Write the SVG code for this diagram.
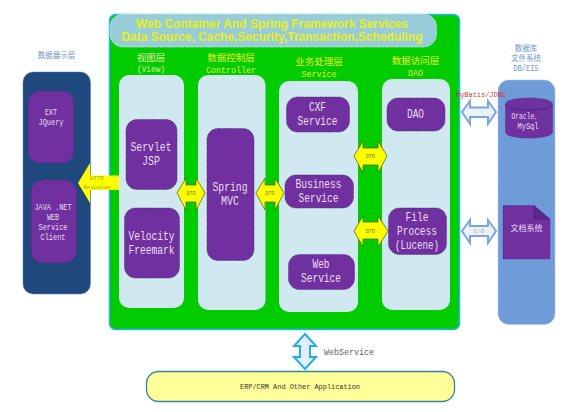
<svg xmlns="http://www.w3.org/2000/svg" width="585" height="412" viewBox="0 0 585 412">
<style>
text{font-family:"Liberation Mono","Noto Sans CJK SC",monospace;text-anchor:middle}
.cn{font-family:"Noto Sans CJK SC",sans-serif}
.t{font-family:"Liberation Sans",sans-serif;font-weight:bold;font-size:12px;fill:#e8f020}
.col{fill:#d0e8f0}
.p{fill:#7030a0;stroke:#4a2a80;stroke-width:.7;stroke-dasharray:1.5 1}
.w{fill:#ecdff5;font-size:12px}
.s{fill:#ecdff5;font-size:8.5px}
.y{fill:#e8f020;font-size:8.5px}
.b{fill:#6f96c8;font-size:8.5px}
.dto{fill:#ffff00;stroke:#4a5a00;stroke-width:.7}
.dt{fill:#70700a;font-size:5px}
.ba{fill:#eaf2fb;stroke:#7ea6dc;stroke-width:2}
.h{fill:#b0a010;font-size:6px}
</style>
<g id="main-container">
<rect x="109.500" y="14.500" width="350" height="315" rx="6" fill="#00cc00" stroke="#20b8e8" stroke-width="1.500"/>
</g>
<g id="title">
<rect x="110" y="14" width="326.500" height="33" rx="13" fill="#98ccd8" stroke="#e0f4f8" stroke-width=".8" stroke-dasharray="1.500 1"/>
<text class="t" x="272" y="27.500">Web Container And Spring Framework Services</text>
<text class="t" x="272" y="41">Data Source, Cache,Security,Transaction,Scheduling</text>
</g>
<g id="view-layer">
<text class="cn" x="151" y="61" font-size="9.500" fill="#e4f0a0">视图层</text>
<text x="151" y="71.500" font-size="9" fill="#e4f0a0" textLength="28" lengthAdjust="spacingAndGlyphs">(View)</text>
<rect class="col" x="119" y="75" width="65" height="233" rx="10"/>
</g>
<g id="controller-layer">
<text class="cn" x="231" y="61" font-size="9.500" fill="#e8f020">数据控制层</text>
<text class="y" x="231" y="73" textLength="50" lengthAdjust="spacingAndGlyphs">Controller</text>
<rect class="col" x="198" y="75" width="67.500" height="235" rx="10"/>
</g>
<g id="service-layer">
<text class="cn" x="319" y="65" font-size="9.500" fill="#e8f020">业务处理层</text>
<text class="y" x="319" y="77" textLength="35" lengthAdjust="spacingAndGlyphs">Service</text>
<rect class="col" x="279" y="81" width="79" height="231" rx="10"/>
</g>
<g id="dao-layer">
<text class="cn" x="415.500" y="64" font-size="9.500" fill="#e8f020">数据访问层</text>
<text class="y" x="415.500" y="75.500" textLength="15" lengthAdjust="spacingAndGlyphs">DAO</text>
<rect class="col" x="382" y="79" width="68" height="231" rx="10"/>
</g>
<g id="presentation-layer">
<text class="cn" x="56.500" y="58" font-size="7.500" fill="#6f96c8">数据展示层</text>
<rect x="23" y="72" width="67.500" height="222" rx="10" fill="#1f497d" stroke="#4f81bd" stroke-width=".5"/>
</g>
<g id="ext"><rect class="p" x="28" y="91" width="46" height="72" rx="12"/>
<text class="s" x="51" y="115" textLength="12" lengthAdjust="spacingAndGlyphs">EXT</text><text class="s" x="51" y="125" textLength="25" lengthAdjust="spacingAndGlyphs">JQuery</text></g>
<g id="client"><rect class="p" x="31" y="180" width="45.500" height="83" rx="12"/>
<text class="s" x="53" y="210" textLength="37" lengthAdjust="spacingAndGlyphs">JAVA .NET</text><text class="s" x="53" y="219.500" textLength="12" lengthAdjust="spacingAndGlyphs">WEB</text><text class="s" x="53" y="229.500" textLength="29" lengthAdjust="spacingAndGlyphs">Service</text><text class="s" x="53" y="239.500" textLength="25" lengthAdjust="spacingAndGlyphs">Client</text></g>
<g id="servlet"><rect class="p" x="126" y="119.500" width="51" height="70" rx="11"/>
<text class="w" x="151" y="151" textLength="41" lengthAdjust="spacingAndGlyphs">Servlet</text><text class="w" x="151" y="165" textLength="18" lengthAdjust="spacingAndGlyphs">JSP</text></g>
<g id="velocity"><rect class="p" x="124.500" y="208" width="55" height="70" rx="11"/>
<text class="w" x="151.500" y="240" textLength="46" lengthAdjust="spacingAndGlyphs">Velocity</text><text class="w" x="151.500" y="253.500" textLength="46" lengthAdjust="spacingAndGlyphs">Freemark</text></g>
<g id="spring"><rect class="p" x="207" y="128.500" width="47" height="132" rx="11"/>
<text class="w" x="230" y="191" textLength="35" lengthAdjust="spacingAndGlyphs">Spring</text><text class="w" x="230" y="205" textLength="18" lengthAdjust="spacingAndGlyphs">MVC</text></g>
<g id="cxf"><rect class="p" x="286.500" y="97" width="63" height="35" rx="11"/>
<text class="w" x="317.500" y="111" textLength="17" lengthAdjust="spacingAndGlyphs">CXF</text><text class="w" x="317.500" y="125" textLength="40" lengthAdjust="spacingAndGlyphs">Service</text></g>
<g id="business"><rect class="p" x="285" y="175" width="68.500" height="33" rx="11"/>
<text class="w" x="318.500" y="188" textLength="46" lengthAdjust="spacingAndGlyphs">Business</text><text class="w" x="318.500" y="202" textLength="40" lengthAdjust="spacingAndGlyphs">Service</text></g>
<g id="web-service"><rect class="p" x="288.500" y="254.500" width="66" height="35" rx="11"/>
<text class="w" x="321" y="268" textLength="17" lengthAdjust="spacingAndGlyphs">Web</text><text class="w" x="321" y="282" textLength="40" lengthAdjust="spacingAndGlyphs">Service</text></g>
<g id="dao"><rect class="p" x="387" y="98" width="58" height="33" rx="11"/>
<text class="w" x="415.500" y="118" textLength="17" lengthAdjust="spacingAndGlyphs">DAO</text></g>
<g id="file-process"><rect class="p" x="388.500" y="208" width="58" height="46.500" rx="11"/>
<text class="w" x="417" y="221" textLength="23" lengthAdjust="spacingAndGlyphs">File</text><text class="w" x="417" y="235" textLength="40" lengthAdjust="spacingAndGlyphs">Process</text><text class="w" x="417" y="249" textLength="44" lengthAdjust="spacingAndGlyphs">(Lucene)</text></g>
<g id="storage-layer">
<text class="cn" x="526" y="51" font-size="7.500" fill="#6f96c8">数据库</text>
<text class="cn" x="526" y="61" font-size="7.500" fill="#6f96c8">文件系统</text>
<text class="b" x="526" y="71" textLength="25" lengthAdjust="spacingAndGlyphs">DB/EIS</text>
<rect x="498" y="80" width="57" height="244.500" rx="11" fill="#6f9bd8" stroke="#a8c4ec" stroke-width=".5"/>
</g>
<g id="database">
<path class="p" d="M505.500 104V132C505.500 140 552.500 140 552.500 132V104C552.500 96 505.500 96 505.500 104Z"/>
<path d="M505.500 104C505.500 112 552.500 112 552.500 104" fill="none" stroke="#3a2070" stroke-width=".7"/>
<text class="s" x="526" y="119" textLength="29" lengthAdjust="spacingAndGlyphs">Oracle、</text><text class="s" x="528" y="129" textLength="21" lengthAdjust="spacingAndGlyphs">MySql</text></g>
<g id="docs">
<path class="p" d="M503 205.500H534L550 219V259H503Z"/>
<path d="M534 205.500V219H550" fill="#5a2a90" stroke="#3a2070" stroke-width=".7"/>
<text class="cn" x="526.500" y="231" font-size="8" fill="#ecdff5">文档系统</text></g>
<g id="erp">
<rect x="146.500" y="371.500" width="308" height="30" rx="12" fill="#ffff99" stroke="#31859c" stroke-width="1.300"/>
<text x="300" y="388.500" font-size="8" fill="#333" textLength="120" lengthAdjust="spacingAndGlyphs">ERP/CRM And Other Application</text></g>
<g id="connectors">
<path d="M119 175.500H90V163L78 183L90 203V190H119Z" fill="#ffff00"/>
<text class="h" x="97" y="180" textLength="14" lengthAdjust="spacingAndGlyphs">HTTP</text>
<text class="h" x="97" y="189" textLength="27" lengthAdjust="spacingAndGlyphs">Response</text>
<path class="dto" d="M177 193L186 178V185H196V178L205 193L196 210V202H186V210Z"/><text class="dt" x="191" y="195">DTO</text>
<path class="dto" d="M256 193L265 178V185H275V178L284 193L275 210V202H265V210Z"/><text class="dt" x="270" y="195">DTO</text>
<path class="dto" d="M354 156L363 141V148H378V141L387 156L378 173V165H363V173Z"/><text class="dt" x="370.500" y="158">DTO</text>
<path class="dto" d="M354 231L363 216V222H378V216L388 231L378 247V239H363V247Z"/><text class="dt" x="370.500" y="233">DTO</text>
<path class="ba" d="M462 112L470 101V107.500H488V101L496 112L488 124V117H470V124Z"/>
<text x="481" y="97" font-size="7.500" fill="#c83838" textLength="50" lengthAdjust="spacingAndGlyphs">MyBatis/JDBC</text>
<path class="ba" d="M462 231L470 220V226H488V220L496 231L488 243V236H470V243Z"/>
<text x="479" y="233" font-size="6" fill="#d8a890">I/O</text>
<path d="M305 334L316 346H310V357H316L305 369L294 357H300V346H294Z" fill="#e4eef8" stroke="#20b0e8" stroke-width="2"/>
<text x="349" y="355" font-size="9" fill="#666" textLength="50" lengthAdjust="spacingAndGlyphs">WebService</text>
</g>
</svg>
